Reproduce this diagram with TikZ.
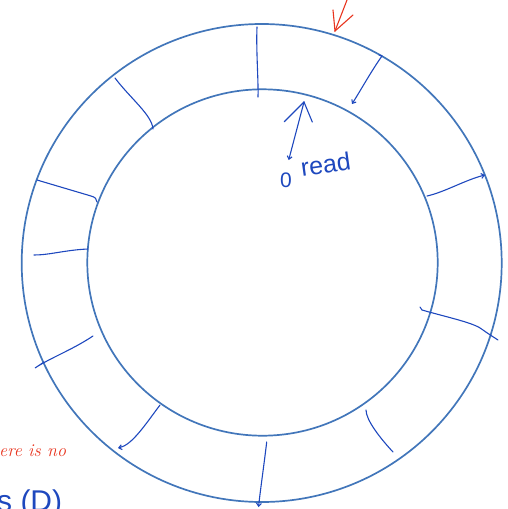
\documentclass[tikz,border=0pt]{standalone}
\usepackage{fontspec}
\usetikzlibrary{arrows.meta}
\definecolor{ring}{RGB}{66,118,186}
\definecolor{ink}{RGB}{30,72,190}
\definecolor{redink}{RGB}{232,52,30}
\newfontfamily\handfont{Liberation Sans}
\begin{document}
\begin{tikzpicture}[x=1pt,y=-1pt,
  ringline/.style={draw=ring,line width=1.7pt},
  tickline/.style={draw=ink,line width=1.1pt,line cap=round},
  barb/.style={-{Straight Barb[length=3pt,width=5pt]}},
  label/.style={inner sep=0pt,text=ink}]
\useasboundingbox (0,0) rectangle (508,509);
% rings
\coordinate (oc) at (261.7,263);
\coordinate (ic) at (262.5,262.5);
\draw[ringline] (oc) ellipse [x radius=240,y radius=239];
\draw[ringline] (ic) ellipse [x radius=175.2,y radius=173.2];
% dividers
\coordinate (t1a) at (257,27);   \coordinate (t1b) at (258,97);
\coordinate (t2a) at (382,56);   \coordinate (t2b) at (352,104);
\coordinate (t3a) at (427,196);  \coordinate (t3b) at (485,175);
\coordinate (t4a) at (422,310);  \coordinate (t4b) at (498,340);
\coordinate (t5a) at (366,410);  \coordinate (t5b) at (393,452);
\coordinate (t6a) at (266.7,442);\coordinate (t6b) at (258.5,507);
\coordinate (t7a) at (160,405);  \coordinate (t7b) at (118,448);
\coordinate (t8a) at (93,336);   \coordinate (t8b) at (35,368);
\coordinate (t9a) at (88,249);   \coordinate (t9b) at (34,255);
\coordinate (t10a) at (37,180);  \coordinate (t10b) at (97,202);
\coordinate (t11a) at (115,78);  \coordinate (t11b) at (153,129);
\draw[tickline] (t1a) .. controls (256,50) and (258.5,80) .. (t1b);
\draw[tickline,barb] (t2a) .. controls (372,70) and (362,88) .. (t2b);
\draw[tickline] (t2a) -- ++(-3,-1);
\draw[tickline,barb] (t3a) .. controls (445,192) and (465,180) .. (t3b);
\draw[tickline] (t4a) .. controls (450,318) and (475,323) .. (483,330) .. controls (490,335) and (495,338) .. (t4b);
\draw[tickline] (t4a) -- ++(-2,-3);
\draw[tickline] (t5a) .. controls (366,420) and (380,438) .. (t5b);
\draw[tickline,barb] (t6a) .. controls (264,465) and (261,485) .. (t6b);
\draw[tickline,barb] (t7a) .. controls (145,425) and (132,445) .. (t7b);
\draw[tickline] (t8a) .. controls (72,350) and (50,358) .. (t8b) -- (44,362);
\draw[tickline] (t9a) .. controls (65,250) and (50,255) .. (t9b);
\draw[tickline] (t10a) -- (91,196) .. controls (95,197) and (97,199) .. (t10b);
\draw[tickline] (t11a) .. controls (130,98) and (152,115) .. (t11b);
% read pointer
\coordinate (rp) at (304,102);
\coordinate (rq) at (288.7,160);
\coordinate (rl) at (284.3,121.7);
\coordinate (rr) at (312.3,122);
\draw[tickline,barb] (rp) -- (rq);
\draw[tickline] (rl) -- (rp) -- (rr);
\node[label,font=\handfont\fontsize{21}{21}\selectfont,anchor=base] (zero) at (286,187) {0};
\node[label,font=\handfont\fontsize{25}{25}\selectfont,anchor=base west,rotate=8] (read) at (302,177) {read};
% red marks
\coordinate (ra) at (347,0);
\coordinate (rb) at (335,31);
\draw[draw=redink,line width=1.1pt,line cap=round] (ra) -- (rb);
\draw[draw=redink,line width=1.1pt,line cap=round] (333,10) -- (rb) -- (353,15);
\node[inner sep=0pt,text=redink,font=\itshape\fontsize{18}{18}\selectfont,anchor=base west] (note) at (-1,456) {ere is no};
\node[label,font=\handfont\fontsize{30}{30}\selectfont,anchor=base west] (sd) at (-3,511) {s (D)};
\end{tikzpicture}
\end{document}
